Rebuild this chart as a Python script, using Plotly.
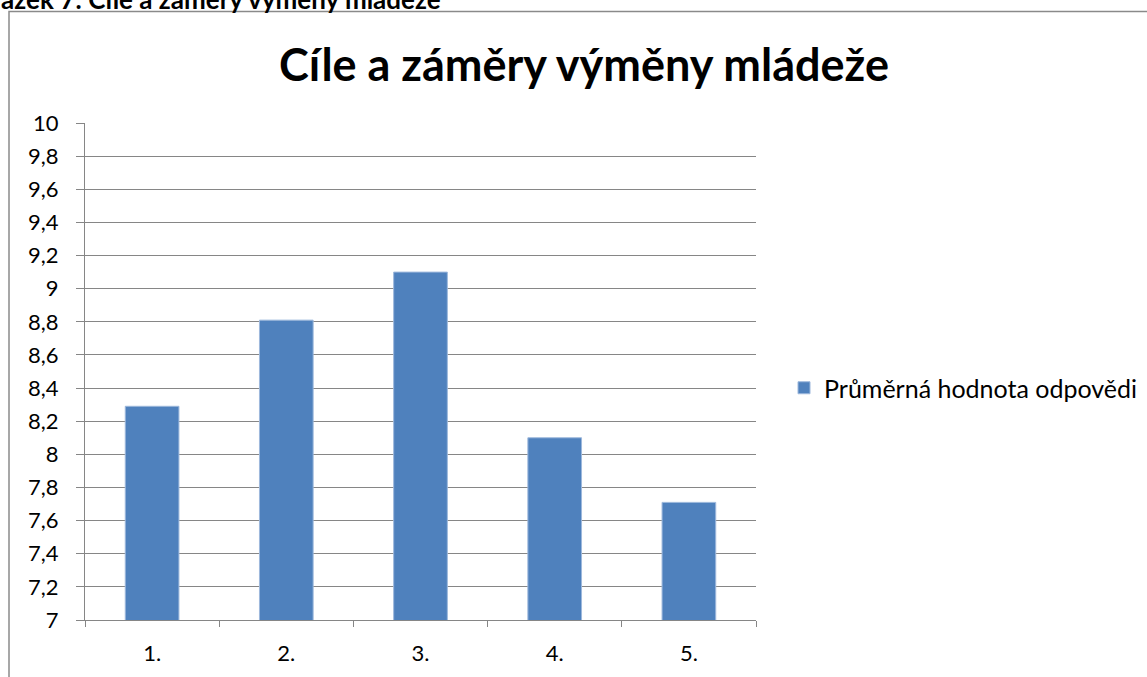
import plotly.graph_objects as go

categories = ["1.", "2.", "3.", "4.", "5."]
values = [8.29, 8.81, 9.10, 8.10, 7.71]
series_name = "Průměrná hodnota odpovědi"
chart_title = "Cíle a záměry výměny mládeže"
caption = "Obrázek 7: Cíle a záměry výměny mládeže"

W, H = 1147, 677
L, R, T, B = 85, 1147 - 756, 123, 677 - 620
pw, ph = W - L - R, H - T - B

def px_x(x):
    return (x - L) / pw

def px_y(y):
    return (H - B - y) / ph

FONT = "Lato"
GRID = "#868686"

fig = go.Figure()
fig.add_trace(go.Bar(
    x=categories, y=values, name=series_name,
    marker=dict(color="#4F81BD", line=dict(color="#9DB8DC", width=1)),
    showlegend=True,
))

fig.update_layout(
    width=W, height=H,
    margin=dict(l=L, r=R, t=T, b=B, autoexpand=False),
    paper_bgcolor="white", plot_bgcolor="white",
    separators=", ",
    bargap=0.6,
    font=dict(family=FONT, size=22, color="black"),
    title=dict(text=chart_title, xref="container", x=584 / W, y=1 - 65 / H,
               xanchor="center", yanchor="middle",
               font=dict(family=FONT, size=45, color="black", weight=700)),
    showlegend=True,
    legend=dict(x=px_x(784), y=px_y(388), xanchor="left", yanchor="middle",
                font=dict(family=FONT, size=25, color="black"),
                bgcolor="rgba(0,0,0,0)"),
    xaxis=dict(type="category", showgrid=False, showline=True, linecolor=GRID, linewidth=1,
               ticks="outside", tickson="boundaries", ticklen=6, tickcolor=GRID,
               tickfont=dict(family=FONT, size=22, color="black"), ticklabelstandoff=14),
    yaxis=dict(range=[7, 10], dtick=0.2, tick0=7, showgrid=True, gridcolor=GRID, gridwidth=1,
               showline=True, linecolor=GRID, linewidth=1, ticks="outside", ticklen=8,
               tickcolor=GRID, zeroline=False,
               tickfont=dict(family=FONT, size=22, color="black"), ticklabelstandoff=13),
)

fig.add_shape(type="rect", xref="paper", yref="paper",
              x0=px_x(9), x1=px_x(1160), y0=px_y(700), y1=px_y(11.5),
              line=dict(color="#8A8A8A", width=1.5), fillcolor="rgba(0,0,0,0)", layer="below")

fig.add_annotation(text="<b>" + caption + "</b>", xref="paper", yref="paper",
                   x=px_x(-46), y=px_y(-1), xanchor="left", yanchor="middle",
                   showarrow=False, font=dict(family=FONT, size=26, color="black"))

fig.write_html("out.html", config={"displayModeBar": False},
               post_script="document.body.style.margin='0';")
